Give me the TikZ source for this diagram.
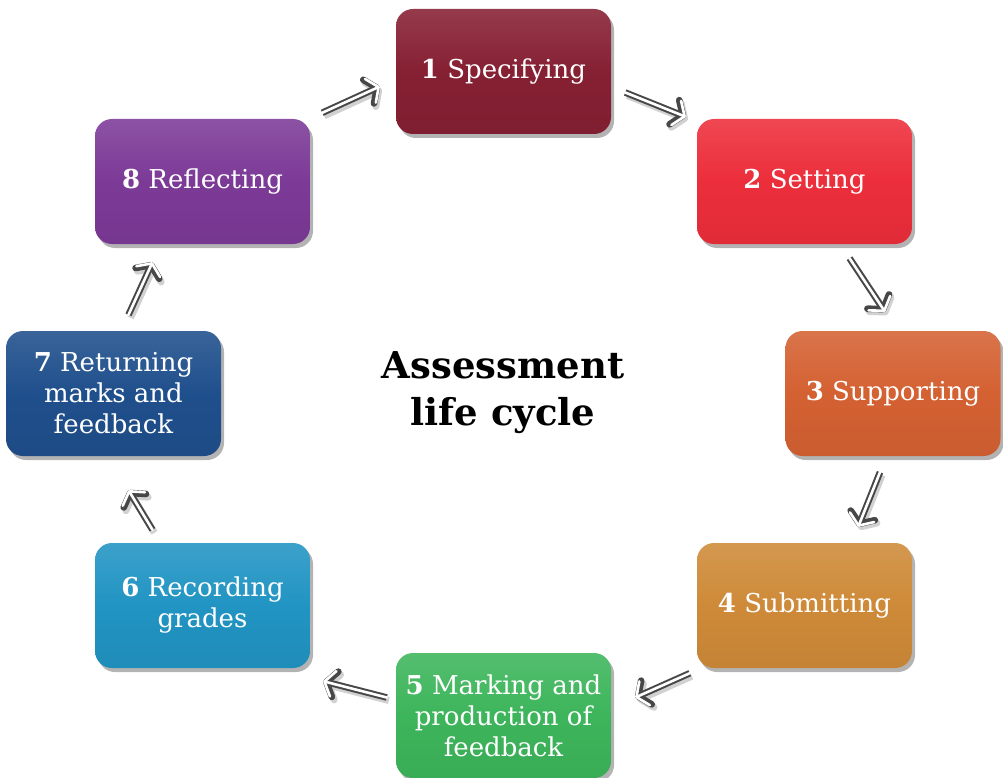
\documentclass[tikz,border=0pt]{standalone}
\usepackage{fontspec}
\setmainfont{DejaVu Serif}
\usetikzlibrary{arrows.meta,shadows}

\definecolor{specc}{HTML}{862033}
\definecolor{settc}{HTML}{EC2E3B}
\definecolor{suppc}{HTML}{D46132}
\definecolor{submc}{HTML}{CE8A38}
\definecolor{markc}{HTML}{3DB55B}
\definecolor{recoc}{HTML}{2194C3}
\definecolor{retuc}{HTML}{1F4F8C}
\definecolor{reflc}{HTML}{7C3A97}

\tikzset{
  stage/.style={rounded corners=17pt, minimum width=215pt, minimum height=125pt,
    text=white, align=center, font=\fontsize{26}{31}\selectfont,
    top color=#1!88!white, bottom color=#1!95!black, middle color=#1,
    drop shadow={shadow xshift=3pt, shadow yshift=-4pt, opacity=0.6}},
  barb/.style={-{Straight Barb[length=9pt, width=26pt, line cap=round, line join=round]}},
  flow/.style={draw=white, line width=2.6pt, line cap=round, barb,
    preaction={draw=black!18, line width=7pt, barb, transform canvas={shift={(2pt,-3pt)}}},
    preaction={draw=black!72, line width=6.6pt, barb}},
}

\begin{document}
\begin{tikzpicture}[x=1pt, y=-1pt]
  \useasboundingbox (0,0) rectangle (1003,778);
  % the eight stages
  \node[stage=specc] (n1) at (503.5,71.5)  {\textbf{1} Specifying};
  \node[stage=settc] (n2) at (804.5,181.5) {\textbf{2} Setting};
  \node[stage=suppc] (n3) at (893,393.5)   {\textbf{3} Supporting};
  \node[stage=submc] (n4) at (804.5,605.5) {\textbf{4} Submitting};
  \node[stage=markc] (n5) at (503.5,715.5) {\textbf{5} Marking and\\production of\\feedback};
  \node[stage=recoc] (n6) at (202.5,605.5) {\textbf{6} Recording\\grades};
  \node[stage=retuc] (n7) at (113.5,393.5) {\textbf{7} Returning\\marks and\\feedback};
  \node[stage=reflc] (n8) at (202.5,181.5) {\textbf{8} Reflecting};
  \node[font=\bfseries\fontsize{37}{47}\selectfont, align=center] (title) at (503,393) {Assessment\\life cycle};
  % arrows round the cycle
  \draw[flow] ([shift={(14,21)}]n1.east) -- ([shift={(-11,-2)}]n2.north west);
  \draw[flow] ([shift={(45,14)}]n2.south) -- ([shift={(-8,-19)}]n3.north);
  \draw[flow] ([shift={(-13,16)}]n3.south) -- ([shift={(-54,-16)}]n4.north east);
  \draw[flow] ([shift={(-7,5)}]n4.south west) -- ([shift={(24,-18)}]n5.east);
  \draw[flow] ([shift={(-9,-18)}]n5.west) -- ([shift={(13,13)}]n6.south east);
  \draw[flow] ([shift={(-50,-13)}]n6.north) -- ([shift={(15,34)}]n7.south);
  \draw[flow] ([shift={(15,-16)}]n7.north) -- ([shift={(-50,18)}]n8.south);
  \draw[flow] ([shift={(12,-6)}]n8.north east) -- ([shift={(-16,15)}]n1.west);
\end{tikzpicture}
\end{document}
